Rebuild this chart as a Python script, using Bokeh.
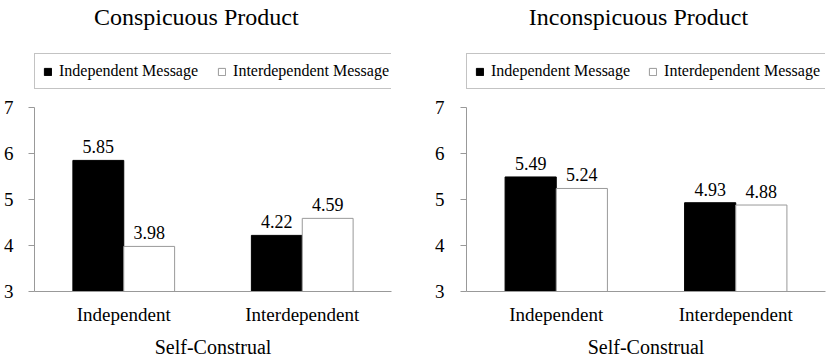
from bokeh.plotting import figure
from bokeh.models import ColumnDataSource, FactorRange, Range1d, FixedTicker, Label, Legend
from bokeh.transform import dodge
from bokeh.layouts import row
from bokeh.embed import file_html
from bokeh.resources import INLINE
from bokeh.core.properties import value

categories = ["Independent", "Interdependent"]
series_names = ["Independent Message", "Interdependent Message"]
conspicuous_indep_msg = [5.85, 4.22]
conspicuous_interdep_msg = [3.98, 4.59]
inconspicuous_indep_msg = [5.49, 4.93]
inconspicuous_interdep_msg = [5.24, 4.88]
y_ticks = [3, 4, 5, 6, 7]
titles = ["Conspicuous Product", "Inconspicuous Product"]
x_title = "Self-Construal"

FONT = "Liberation Serif"
GRAY = "#999999"
H = 361
FRAME_BOTTOM = 291   # pixel row of the value 3
PX_PER_UNIT = 46.0


def make_panel(title, a_vals, b_vals, width, bl, br, tick_standoff, title_x, spacing):
    src = ColumnDataSource(dict(
        cat=categories,
        a=a_vals,
        b=b_vals,
        a_lbl=["%.2f" % v for v in a_vals],
        b_lbl=["%.2f" % v for v in b_vals],
    ))
    bb = H - FRAME_BOTTOM
    y_end = 3 + FRAME_BOTTOM / PX_PER_UNIT
    p = figure(width=width, height=H, x_range=FactorRange(*categories, range_padding=0),
               y_range=Range1d(3, y_end), output_backend="svg", toolbar_location=None,
               min_border_left=bl, min_border_right=br, min_border_top=0, min_border_bottom=bb)
    p.outline_line_color = None
    p.grid.visible = False
    p.background_fill_color = "white"
    p.border_fill_color = "white"

    w = 0.285
    off = 0.1425
    r1 = p.vbar(x=dodge("cat", -off, range=p.x_range), top="a", bottom=3, width=w, source=src,
                fill_color="black", line_color="black")
    r2 = p.vbar(x=dodge("cat", off, range=p.x_range), top="b", bottom=3, width=w, source=src,
                fill_color="white", line_color=GRAY)

    for dx, col, lbl in [(-off, "a", "a_lbl"), (off, "b", "b_lbl")]:
        p.text(x=dodge("cat", dx, range=p.x_range), y=col, text=lbl, source=src,
               text_align="center", text_baseline="bottom", y_offset=-7,
               text_font=value(FONT), text_font_size="18px", text_color="black")

    # axes
    p.yaxis.ticker = FixedTicker(ticks=y_ticks)
    p.yaxis.bounds = (3, 7)
    p.yaxis.major_tick_out = 6
    p.yaxis.major_tick_in = 0
    p.yaxis.minor_tick_line_color = None
    p.yaxis.axis_line_color = GRAY
    p.yaxis.major_tick_line_color = GRAY
    p.yaxis.major_label_text_font = FONT
    p.yaxis.major_label_text_font_size = "19px"
    p.yaxis.major_label_text_color = "black"
    p.yaxis.major_label_standoff = tick_standoff

    p.xaxis.axis_line_color = GRAY
    p.xaxis.major_tick_line_color = None
    p.xaxis.major_tick_out = 0
    p.xaxis.major_tick_in = 0
    p.xaxis.minor_tick_line_color = None
    p.xaxis.major_label_text_font = FONT
    p.xaxis.major_label_text_font_size = "19px"
    p.xaxis.major_label_text_color = "black"
    p.xaxis.major_label_standoff = 12
    p.xaxis.axis_label = x_title
    p.xaxis.axis_label_text_font = FONT
    p.xaxis.axis_label_text_font_size = "20px"
    p.xaxis.axis_label_text_font_style = "normal"
    p.xaxis.axis_label_text_color = "black"
    p.xaxis.axis_label_standoff = 8

    # title as label (value-space y so it sits at ~17px from the top)
    p.add_layout(Label(x=title_x, y=3 + (FRAME_BOTTOM - 16) / PX_PER_UNIT, text=title,
                       text_align="center", text_baseline="middle", text_font=FONT,
                       text_font_size="24px", text_color="black"))

    legend = Legend(items=[(series_names[0], [r1]), (series_names[1], [r2])],
                    orientation="horizontal", location=(0, FRAME_BOTTOM - 89))
    legend.label_text_font = FONT
    legend.label_text_font_size = "16px"
    legend.label_text_color = "black"
    legend.glyph_width = 9
    legend.glyph_height = 9
    legend.label_standoff = 7
    legend.spacing = spacing
    legend.padding = 8
    legend.margin = 0
    legend.border_line_color = "#888888"
    legend.border_line_width = 1
    legend.background_fill_color = "white"
    legend.background_fill_alpha = 1
    p.add_layout(legend, "center")
    return p


p1 = make_panel(titles[0], conspicuous_indep_msg, conspicuous_interdep_msg,
                410, 31, 19, 15, 0.906, 19)
p2 = make_panel(titles[1], inconspicuous_indep_msg, inconspicuous_interdep_msg,
                417, 56, 2, 16, 0.958, 18)

layout = row(p1, p2)
open("out.html", "w").write(file_html(layout, INLINE))
